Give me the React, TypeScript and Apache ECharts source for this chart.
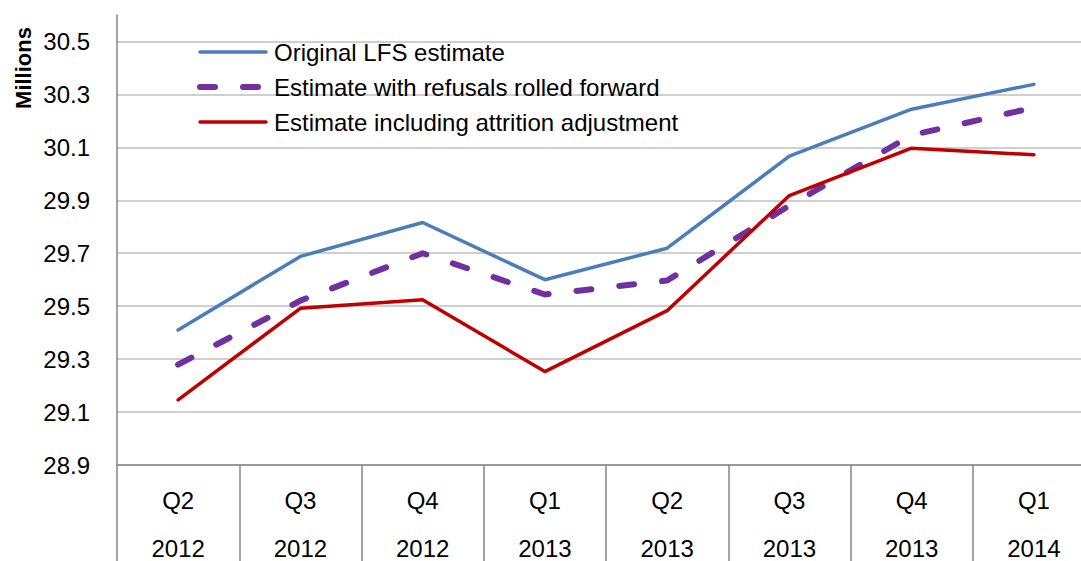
import React, { useEffect, useRef } from "react";
import * as echarts from "echarts";

const quarters = ["Q2", "Q3", "Q4", "Q1", "Q2", "Q3", "Q4", "Q1"];
const years = ["2012", "2012", "2012", "2013", "2013", "2013", "2013", "2014"];
const originalLFS = [29.41, 29.688, 29.816, 29.6, 29.719, 30.067, 30.244, 30.338];
const refusalsRolled = [29.279, 29.521, 29.7, 29.544, 29.597, 29.88, 30.146, 30.25];
const attritionAdj = [29.146, 29.492, 29.524, 29.253, 29.483, 29.918, 30.097, 30.072];
const seriesNames = [
  "Original LFS estimate",
  "Estimate with refusals rolled forward",
  "Estimate including attrition adjustment",
];
const yMin = 28.9;
const yMax = 30.6;
const yStep = 0.2;

const FONT = "'Liberation Sans', Arial, sans-serif";

export default function App() {
  const ref = useRef<HTMLDivElement>(null);
  useEffect(() => {
    document.body.style.margin = "0";
    if (!ref.current) return;
    const chart = echarts.init(ref.current, null, { renderer: "svg" });
    const categories = quarters.map((q, i) => q + "\n" + years[i]);
    chart.setOption({
      animation: false,
      backgroundColor: "#ffffff",
      textStyle: { fontFamily: FONT },
      grid: {
        left: 117,
        top: 15,
        width: 978,
        height: 450,
        containLabel: false,
        outerBoundsMode: "none",
      },
      graphic: [
        {
          type: "text",
          x: 23,
          y: 68,
          rotation: Math.PI / 2,
          style: {
            text: "Millions",
            font: `bold 22px ${FONT}`,
            fill: "#000",
            textAlign: "center",
            textVerticalAlign: "middle",
          },
        },
      ],
      legend: {
        orient: "vertical",
        left: 197,
        top: 39,
        padding: 0,
        itemWidth: 66,
        itemHeight: 26,
        itemGap: 9,
        itemStyle: { opacity: 0 },
        lineStyle: { width: "inherit" },
        textStyle: {
          fontSize: 24,
          lineHeight: 26,
          color: "#000",
          fontFamily: FONT,
          padding: [0, 0, 0, 3],
        },
        data: seriesNames,
      },
      xAxis: {
        type: "category",
        data: categories,
        boundaryGap: true,
        axisLine: { lineStyle: { color: "#868686", width: 1.5 } },
        axisTick: {
          show: true,
          interval: 0,
          length: 100,
          lineStyle: { color: "#868686", width: 1.5 },
        },
        axisLabel: {
          interval: 0,
          margin: 11,
          fontSize: 24,
          lineHeight: 48,
          color: "#000",
          fontFamily: FONT,
        },
      },
      yAxis: {
        type: "value",
        min: yMin,
        max: yMax,
        interval: yStep,
        axisLine: { show: true, lineStyle: { color: "#868686", width: 1.5 } },
        axisTick: { show: false },
        axisLabel: {
          margin: 27,
          fontSize: 24,
          color: "#000",
          fontFamily: FONT,
          showMaxLabel: false,
          formatter: (v: number) => (v > yMax - 0.05 ? "" : v.toFixed(1)),
        },
        splitLine: {
          show: true,
          showMaxLine: false,
          lineStyle: { color: "#bfbfbf", width: 1.5 },
        },
      },
      series: [
        {
          name: seriesNames[0],
          type: "line",
          data: originalLFS,
          symbol: "none",
          lineStyle: { color: "#4a7ebb", width: 3.5, cap: "round", join: "round" },
          itemStyle: { color: "#4a7ebb" },
          z: 3,
        },
        {
          name: seriesNames[1],
          type: "line",
          data: refusalsRolled,
          symbol: "none",
          lineStyle: {
            color: "#7030a0",
            width: 6,
            type: [15, 28],
            cap: "round",
            join: "round",
          },
          itemStyle: { color: "#7030a0" },
          z: 2,
        },
        {
          name: seriesNames[2],
          type: "line",
          data: attritionAdj,
          symbol: "none",
          lineStyle: { color: "#c00000", width: 3.5, cap: "round", join: "round" },
          itemStyle: { color: "#c00000" },
          z: 4,
        },
      ],
    });
    return () => chart.dispose();
  }, []);
  return <div ref={ref} style={{ width: 1081, height: 561 }} />;
}
